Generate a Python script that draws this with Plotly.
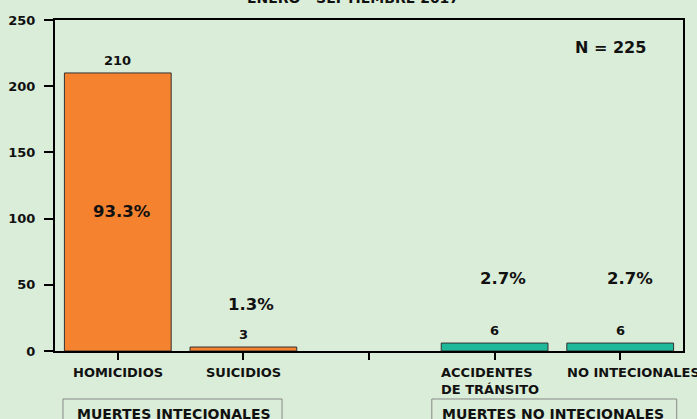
import plotly.graph_objects as go

# ---- data ----
categories = ["HOMICIDIOS", "SUICIDIOS", "", "ACCIDENTES<br>DE TRÁNSITO", "NO INTECIONALES"]
bar_slots = [0, 1, 3, 4]
bar_values = [210, 3, 6, 6]
total_n = 225
pct_labels = [f"{v / total_n * 100:.1f}%" for v in bar_values]
group_labels = ["MUERTES INTECIONALES", "MUERTES NO INTECIONALES"]
title_text = "ENERO - SEPTIEMBRE 2017"
y_ticks = [0, 50, 100, 150, 200, 250]

# ---- style / placement ----
ORANGE = "#F5822F"
TEAL = "#1EB89A"
BG = "#DAEDD8"
FONT = "DejaVu Sans"
bar_colors = [ORANGE, ORANGE, TEAL, TEAL]
pct_y = [105, 35, 55, 55]
pct_xshift = [4, 8, 8, 10]
group_box_x = [(0.0127, 0.3615), (0.600, 0.990)]
group_text_x = [0.0318, 0.613]

fig = go.Figure()
fig.add_trace(go.Bar(
    x=bar_slots, y=bar_values, width=0.85,
    marker=dict(color=bar_colors, line=dict(color="#333333", width=1)),
    hoverinfo="skip",
))

ann = []
for xs, v in zip(bar_slots, bar_values):
    ann.append(dict(x=xs, y=v, xref="x", yref="y", text=str(v), showarrow=False,
                    xanchor="center", yanchor="bottom", yshift=3,
                    font=dict(family=FONT, size=13, color="#111", weight="bold")))
for xs, p, py, dx in zip(bar_slots, pct_labels, pct_y, pct_xshift):
    ann.append(dict(x=xs, y=py, xref="x", yref="y", text=p, showarrow=False,
                    xanchor="center", xshift=dx,
                    font=dict(family=FONT, size=16.5, color="#111", weight="bold")))
cat_font = dict(family=FONT, size=13, color="#111", weight="bold")
for i, c in enumerate(categories):
    if not c:
        continue
    if i >= 3:
        ann.append(dict(x=i - 0.44, y=0, xref="x", yref="paper", text=c, showarrow=False,
                        xanchor="left", yanchor="top", yshift=-12, align="left",
                        font=cat_font))
    else:
        ann.append(dict(x=i, y=0, xref="x", yref="paper", text=c, showarrow=False,
                        xanchor="center", yanchor="top", yshift=-12,
                        font=cat_font))
grp_font = dict(family=FONT, size=14, color="#111", weight="bold")
shapes = []
for (x0, x1), tx, g in zip(group_box_x, group_text_x, group_labels):
    shapes.append(dict(type="rect", xref="paper", yref="paper", x0=x0, x1=x1,
                       y0=-0.145, y1=-0.30, line=dict(color="#888888", width=1),
                       fillcolor="rgba(0,0,0,0)"))
    ann.append(dict(x=tx, y=-0.190, xref="paper", yref="paper", text=g,
                    showarrow=False, xanchor="left", yanchor="middle", font=grp_font))
ann.append(dict(x=0.884, y=0.918, xref="paper", yref="paper", text=f"N = {total_n}",
                showarrow=False, xanchor="center", yanchor="middle",
                font=dict(family=FONT, size=16, color="#111", weight="bold")))
ann.append(dict(x=0.475, y=1.037, xref="paper", yref="paper", text=title_text,
                showarrow=False, xanchor="center", yanchor="bottom",
                font=dict(family=FONT, size=14, color="#111", weight="bold")))

fig.update_layout(
    width=697, height=419,
    margin=dict(l=55, r=14, t=20, b=68),
    paper_bgcolor=BG, plot_bgcolor=BG,
    showlegend=False,
    annotations=ann, shapes=shapes,
    xaxis=dict(range=[-0.5, 4.5], tickvals=list(range(len(categories))),
               showticklabels=False, ticks="outside", ticklen=7, tickwidth=2,
               tickcolor="black", showline=True, linecolor="black", linewidth=2,
               mirror=True, showgrid=False, zeroline=False, fixedrange=True,
               automargin=False),
    yaxis=dict(range=[0, 250], tickvals=y_ticks, ticks="outside", ticklen=9,
               tickwidth=2, tickcolor="black", showline=True, linecolor="black",
               linewidth=2, mirror=True, showgrid=False, zeroline=False,
               ticklabelstandoff=6, automargin=False, fixedrange=True,
               tickfont=dict(family=FONT, size=13, color="#111", weight="bold")),
)

fig.write_html(
    "out.html",
    config={"displayModeBar": False, "staticPlot": True},
    post_script="document.body.style.margin='0';document.body.style.background='%s';" % BG,
)
